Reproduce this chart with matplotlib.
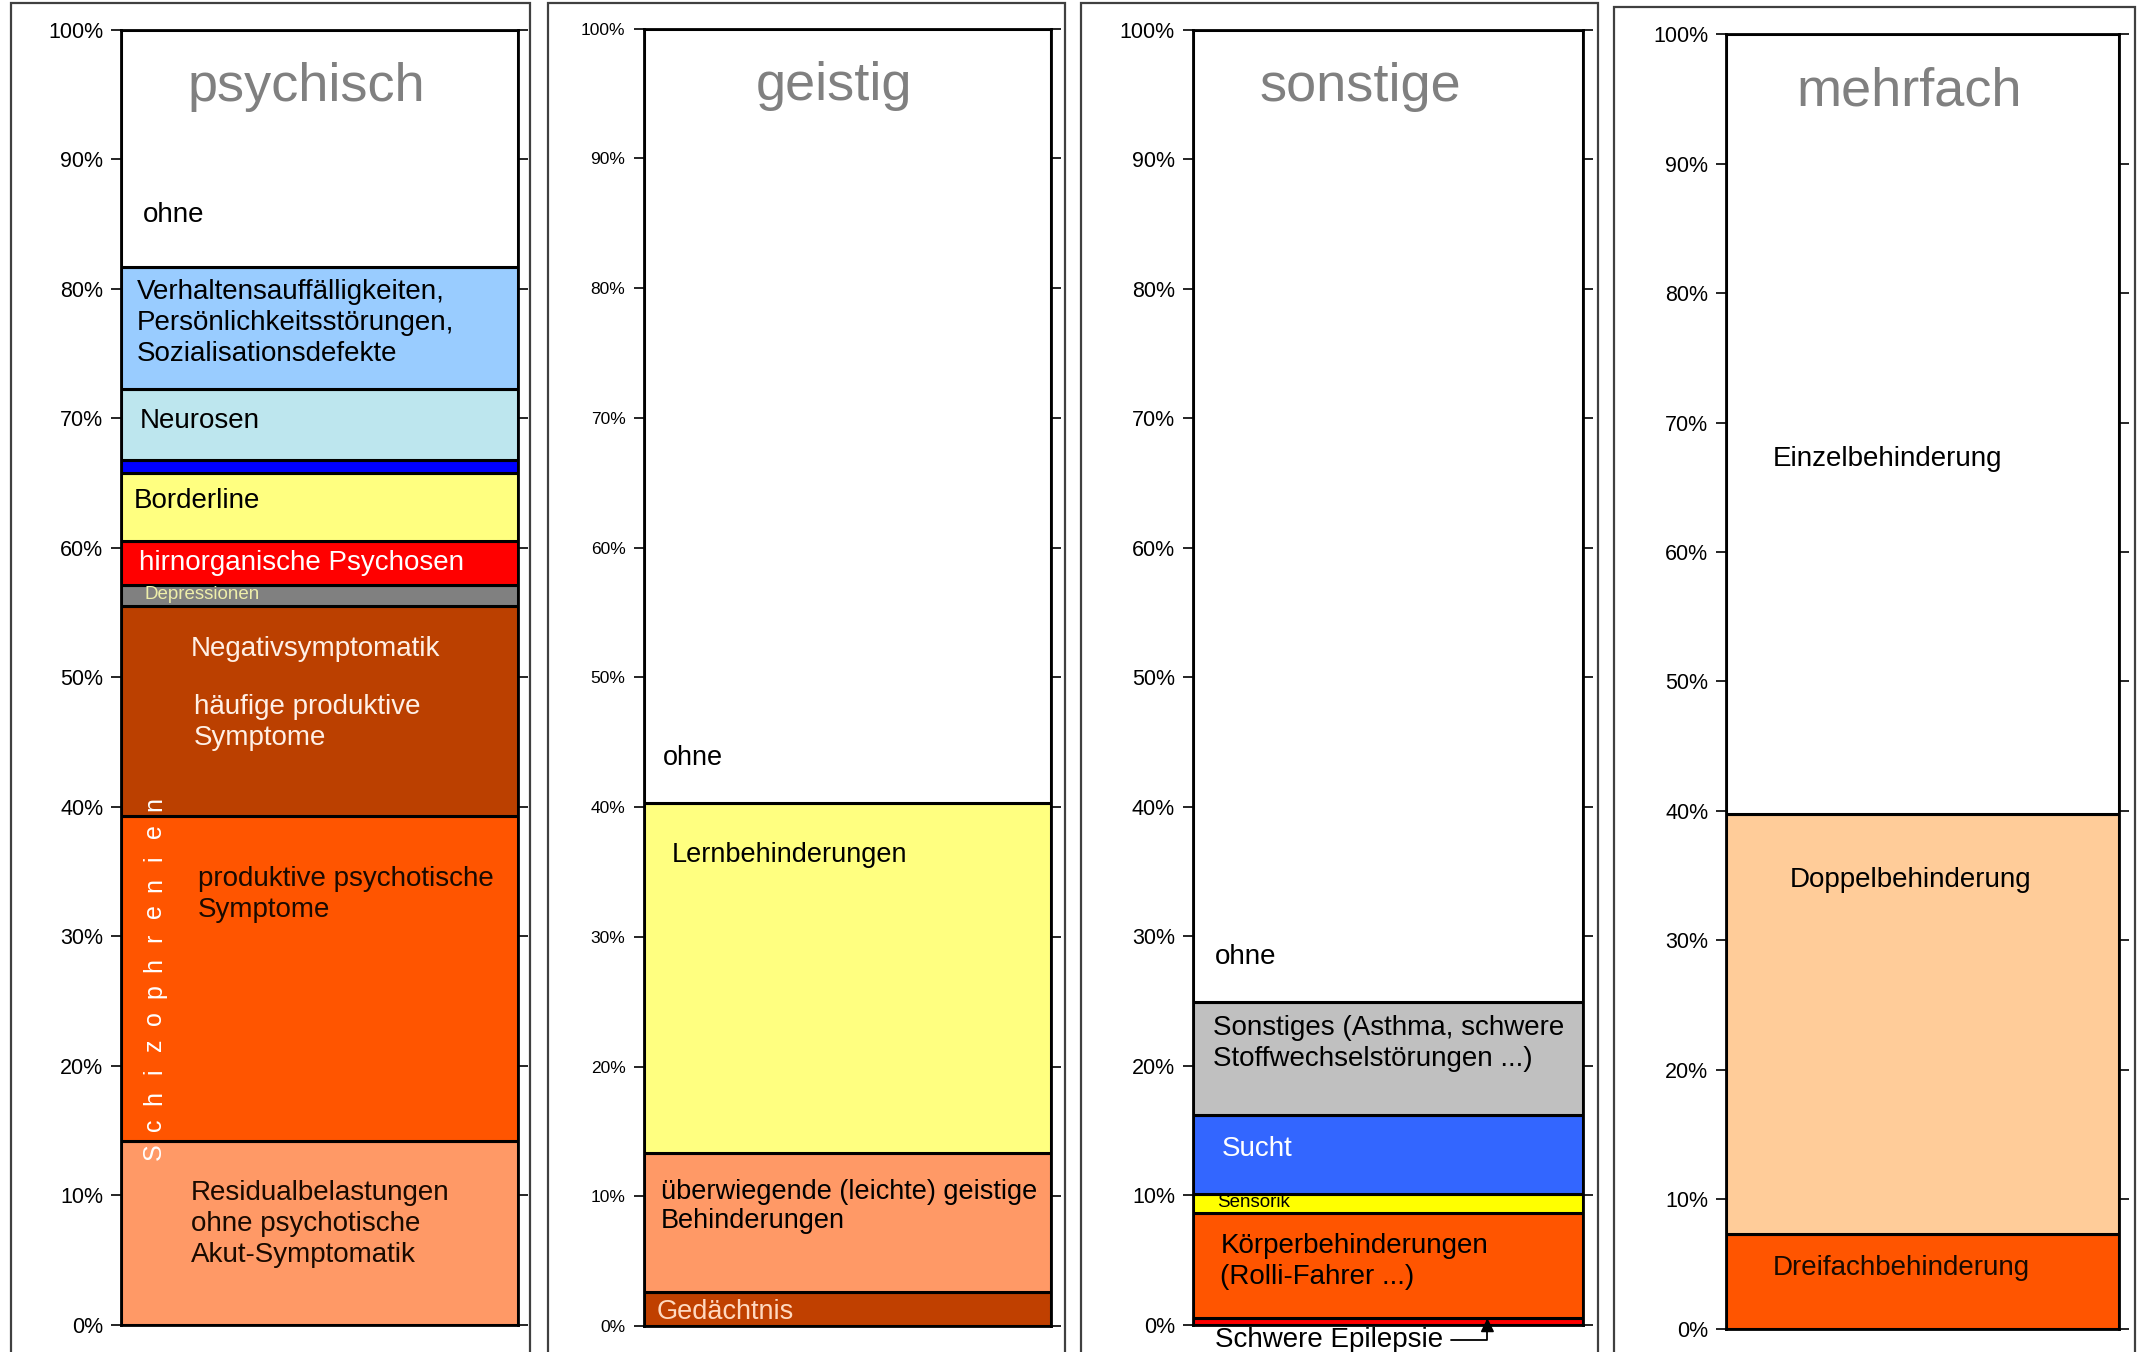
import matplotlib.pyplot as plt
from matplotlib.patches import Rectangle

plt.rcParams['font.family'] = ['Liberation Sans', 'DejaVu Sans']

# --- data: segment sizes (percent), bottom to top ---
psychisch_cats = ["Residualbelastungen", "produktive psychotische Symptome",
                  "Negativsymptomatik / häufige produktive Symptome", "Depressionen",
                  "hirnorganische Psychosen", "Borderline", "(ohne Beschriftung)",
                  "Neurosen", "Verhaltensauffälligkeiten", "ohne"]
psychisch_vals = [14.2, 25.1, 16.2, 1.6, 3.4, 5.3, 1.0, 5.5, 9.4, 18.3]
psychisch_cols = ["#FF9966", "#FF5500", "#BB4000", "#808080", "#FF0000",
                  "#FFFF80", "#0000FF", "#BDE6EE", "#99CCFF", "#FFFFFF"]

geistig_cats = ["Gedächtnis", "überwiegende (leichte) geistige Behinderungen",
                "Lernbehinderungen", "ohne"]
geistig_vals = [2.6, 10.7, 27.0, 59.7]
geistig_cols = ["#C04000", "#FF9966", "#FFFF80", "#FFFFFF"]

sonstige_cats = ["Schwere Epilepsie", "Körperbehinderungen", "Sensorik", "Sucht",
                 "Sonstiges", "ohne"]
sonstige_vals = [0.5, 8.1, 1.5, 6.1, 8.7, 75.1]
sonstige_cols = ["#FF0000", "#FF5500", "#FFFF00", "#3366FF", "#C0C0C0", "#FFFFFF"]

mehrfach_cats = ["Dreifachbehinderung", "Doppelbehinderung", "Einzelbehinderung"]
mehrfach_vals = [7.3, 32.5, 60.2]
mehrfach_cols = ["#FF5500", "#FFCC99", "#FFFFFF"]

titles = ["psychisch", "geistig", "sonstige", "mehrfach"]
yticks = list(range(0, 101, 10))

fig = plt.figure(figsize=(21.38, 13.52), dpi=100)

# axes boxes (left, bottom, width, height) and outer frames (left, right, top)
boxes = [(0.0568, 0.0202, 0.1855, 0.9576),
         (0.3010, 0.0192, 0.1907, 0.9596),
         (0.5580, 0.0202, 0.1824, 0.9576),
         (0.8074, 0.0171, 0.1837, 0.9577)]
frames = [(0.0051, 0.2481, 0.998), (0.2564, 0.4981, 0.998),
          (0.5057, 0.7474, 0.998), (0.7551, 0.9987, 0.995)]

for l, r, t in frames:
    fig.add_artist(Rectangle((l, -0.05), r - l, t + 0.05, transform=fig.transFigure,
                             fill=False, edgecolor="#404040", linewidth=1.6, clip_on=False))

panels = [(psychisch_vals, psychisch_cols), (geistig_vals, geistig_cols),
          (sonstige_vals, sonstige_cols), (mehrfach_vals, mehrfach_cols)]
axes = []
for i, (vals, cols) in enumerate(panels):
    ax = fig.add_axes(boxes[i])
    bottom = 0
    for v, c in zip(vals, cols):
        ax.bar(0.5, v, width=1, bottom=bottom, color=c, edgecolor="black", linewidth=2.2)
        bottom += v
    ax.set_xlim(0, 1)
    ax.set_ylim(0, 100)
    ax.set_xticks([])
    ax.set_yticks(yticks)
    ax.set_yticklabels([f"{t}%" for t in yticks])
    ax.tick_params(axis="y", direction="out", length=7, width=1.2, right=True,
                   labelsize=15.5 if i != 1 else 12.5, pad=6)
    for s in ax.spines.values():
        s.set_linewidth(2)
    ax.text(0.467 if i != 2 else 0.43, 95.6, titles[i], color="#808080", fontsize=39,
            ha="center", va="center")
    axes.append(ax)

fs = 20
ls = 1.25
a1, a2, a3, a4 = axes

# psychisch
a1.text(0.055, 85.7, "ohne", fontsize=fs, va="center")
a1.text(0.038, 77.4, "Verhaltensauffälligkeiten,\nPersönlichkeitsstörungen,\nSozialisationsdefekte",
        fontsize=fs, va="center", linespacing=ls)
a1.text(0.045, 69.8, "Neurosen", fontsize=fs, va="center")
a1.text(0.031, 63.6, "Borderline", fontsize=fs, va="center")
a1.text(0.045, 58.8, "hirnorganische Psychosen", fontsize=fs, va="center", color="white")
a1.text(0.058, 56.4, "Depressionen", fontsize=13.5, va="center", color="#EEEEAA")
a1.text(0.175, 52.2, "Negativsymptomatik", fontsize=fs, va="center", color="#FFF0E6")
a1.text(0.182, 46.5, "häufige produktive\nSymptome", fontsize=fs, va="center",
        color="#FFF0E6", linespacing=ls)
a1.text(0.192, 33.2, "produktive psychotische\nSymptome", fontsize=fs, va="center",
        color="#1A0A00", linespacing=ls)
a1.text(0.175, 7.8, "Residualbelastungen\nohne psychotische\nAkut-Symptomatik",
        fontsize=fs, va="center", color="#1A0A00", linespacing=ls)
word = "Schizophrenien"
for k, ch in enumerate(word):
    a1.text(0.082, 13.4 + k * 2.06, ch, rotation=90, fontsize=18, color="white",
            ha="center", va="center", family=["Liberation Sans Narrow", "Liberation Sans"])

# geistig
a2.text(0.047, 43.8, "ohne", fontsize=19.5, va="center")
a2.text(0.07, 36.3, "Lernbehinderungen", fontsize=19.5, va="center")
a2.text(0.043, 9.2, "überwiegende (leichte) geistige\nBehinderungen", fontsize=19.5,
        va="center", linespacing=1.15)
a2.text(0.033, 1.05, "Gedächtnis", fontsize=19.5, va="center", color="#FFD9C0")

# sonstige
a3.text(0.056, 28.4, "ohne", fontsize=fs, va="center")
a3.text(0.052, 21.7, "Sonstiges (Asthma, schwere\nStoffwechselstörungen ...)", fontsize=fs,
        va="center", linespacing=ls)
a3.text(0.073, 13.6, "Sucht", fontsize=fs, va="center", color="white")
a3.text(0.063, 9.4, "Sensorik", fontsize=13.5, va="center")
a3.text(0.07, 4.9, "Körperbehinderungen\n(Rolli-Fahrer ...)", fontsize=fs, va="center",
        linespacing=ls)
a3.annotate("Schwere Epilepsie", xy=(0.755, sonstige_vals[0]), xytext=(0.056, -1.2),
            fontsize=fs, va="center", annotation_clip=False,
            arrowprops=dict(arrowstyle="-|>", color="black", lw=1.3, shrinkA=4, shrinkB=0,
                            connectionstyle="angle,angleA=0,angleB=90,rad=0"))

# mehrfach
a4.text(0.118, 67.2, "Einzelbehinderung", fontsize=fs, va="center")
a4.text(0.163, 34.7, "Doppelbehinderung", fontsize=fs, va="center")
a4.text(0.118, 4.7, "Dreifachbehinderung", fontsize=fs, va="center", color="#1A0A00")

fig.savefig("out.png", dpi=100)
